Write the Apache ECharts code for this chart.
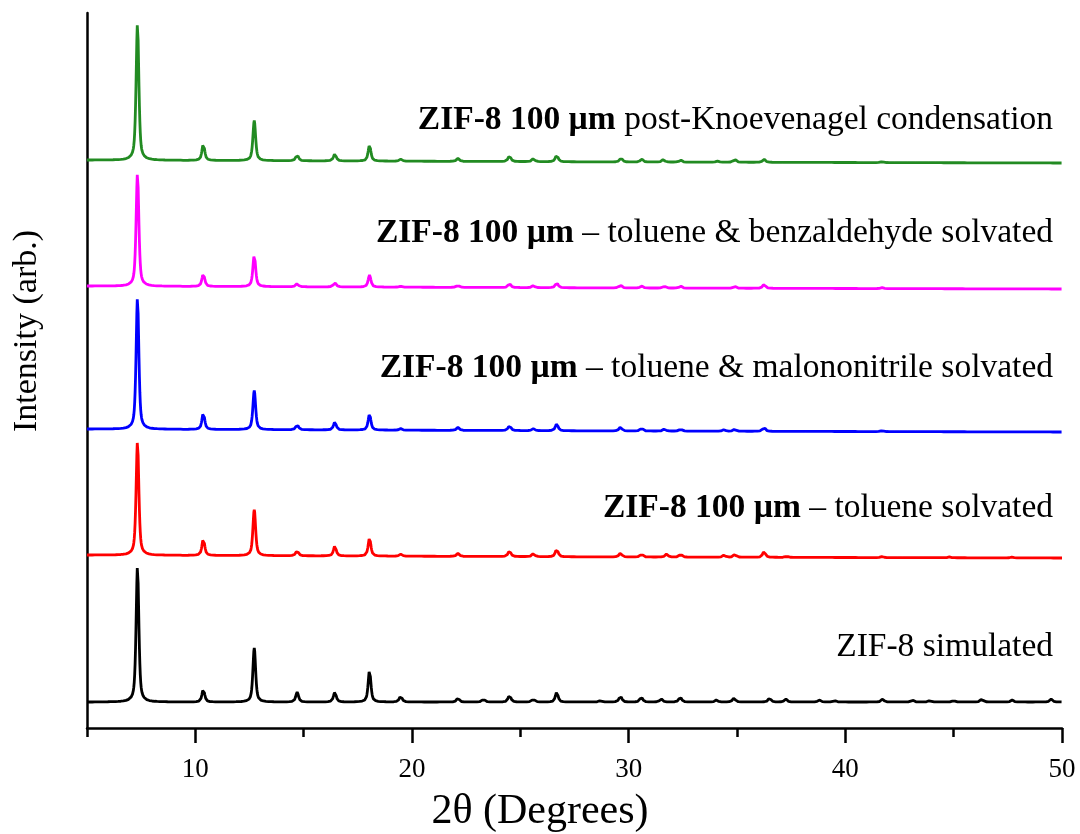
<!DOCTYPE html>
<html>
<head>
<meta charset="utf-8">
<title>ZIF-8 PXRD patterns</title>
<script src="https://cdn.jsdelivr.net/npm/echarts@6/dist/echarts.min.js"></script>
<style>
  html, body { margin: 0; padding: 0; background: #ffffff; }
  #chart { width: 1080px; height: 834px; }
</style>
</head>
<body>
<div id="chart"></div>
<script>
// 2θ range of the diffractograms (degrees)
const thetaMin = 5;
const thetaMax = 50;
const thetaStep = 0.02;

// Tick values of the 2θ axis
const majorTicks = [10, 20, 30, 40, 50];
const minorTicks = [5, 15, 25, 35, 45];

// Reflections of each pattern: [2θ, intensity above baseline] (arb.)
const simulatedPeaks = [
  [7.33, 136], [10.37, 13], [12.72, 54], [14.70, 10], [16.44, 10], [18.04, 32],
  [19.48, 6], [22.12, 4], [23.30, 3], [24.50, 7], [25.60, 3], [26.68, 10],
  [28.70, 1.5], [29.62, 6], [30.58, 5], [31.50, 3], [32.38, 5], [34.05, 2],
  [34.86, 4], [36.50, 4], [37.25, 3], [38.80, 2], [39.50, 1.5], [41.72, 3],
  [43.10, 2], [43.90, 1.5], [45.00, 1.5], [46.30, 3], [47.70, 2], [49.50, 3]
];
const tolueneSolvatedPeaks = [
  [7.33, 114], [10.37, 17], [12.72, 46], [14.70, 5], [16.44, 10], [18.04, 18],
  [19.48, 2], [22.12, 3], [24.50, 6], [25.60, 3], [26.68, 8], [29.62, 4],
  [30.60, 3], [31.75, 3], [32.40, 3], [34.40, 2], [34.90, 3], [36.25, 6],
  [37.30, 1], [41.70, 1], [44.80, 0.8], [47.70, 0.8]
];
const malononitrileSolvatedPeaks = [
  [7.33, 132], [10.37, 17], [12.72, 39], [14.70, 5], [16.44, 8], [18.04, 16],
  [19.48, 1.5], [22.12, 3], [24.50, 5], [25.60, 2], [26.68, 7], [29.62, 4],
  [30.60, 3], [31.65, 2], [32.40, 2], [34.40, 1.5], [34.90, 2], [36.25, 4],
  [41.70, 1]
];
const benzaldehydeSolvatedPeaks = [
  [7.33, 113], [10.37, 13], [12.72, 32], [14.70, 3], [16.44, 4], [18.04, 12],
  [19.48, 1], [22.12, 2], [24.50, 4], [25.60, 2], [26.68, 5], [29.62, 3],
  [30.60, 2], [31.65, 2], [32.40, 2], [34.90, 2], [36.25, 4], [41.70, 1]
];
const knoevenagelPeaks = [
  [7.33, 137], [10.37, 17], [12.72, 40], [14.70, 6], [16.44, 7], [18.04, 16],
  [19.48, 2], [22.12, 3], [24.50, 6], [25.60, 3], [26.68, 7], [29.65, 4],
  [30.60, 3], [31.60, 2.5], [32.40, 2], [34.10, 1], [34.90, 3], [36.25, 3],
  [41.70, 1]
];

// Vertical offset of each trace: [2θ, baseline level]
const simulatedBase = [[5, 26], [50, 26]];
const tolueneSolvatedBase = [[5, 173], [30, 171], [50, 170]];
const malononitrileSolvatedBase = [[5, 299], [30, 297], [50, 296]];
const benzaldehydeSolvatedBase = [[5, 442], [30, 440], [50, 439]];
const knoevenagelBase = [[5, 568], [30, 566], [50, 565]];

// Trace legends (bold sample name + description)
const labelBold = ['ZIF-8 100 µm', 'ZIF-8 100 µm', 'ZIF-8 100 µm', 'ZIF-8 100 µm', ''];
const labelText = [
  ' post-Knoevenagel condensation',
  ' – toluene & benzaldehyde solvated',
  ' – toluene & malononitrile solvated',
  ' – toluene solvated',
  'ZIF-8 simulated'
];

const traceColors = ['#228b22', '#ff00ff', '#0000ff', '#ff0000', '#000000'];
const labelCenters = [120, 233, 368, 508, 647];

// Peak profile (pseudo-Voigt) used to draw each reflection
const hwhm = 0.075;
const eta = 0.6;
function profile(dx) {
  const u = (dx / hwhm) * (dx / hwhm);
  return eta / (1 + u) + (1 - eta) * Math.exp(-Math.LN2 * u);
}
function baseAt(base, x) {
  for (let i = 0; i < base.length - 1; i++) {
    const a = base[i], b = base[i + 1];
    if (x >= a[0] && x <= b[0]) return a[1] + (b[1] - a[1]) * (x - a[0]) / (b[0] - a[0]);
  }
  return base[base.length - 1][1];
}
function pattern(peaks, base) {
  const pts = [];
  const n = Math.round((thetaMax - thetaMin) / thetaStep);
  for (let i = 0; i <= n; i++) {
    const x = thetaMin + i * thetaStep;
    let y = baseAt(base, x);
    for (const p of peaks) {
      const dx = x - p[0];
      if (Math.abs(dx) < 2) y += p[1] * profile(dx);
    }
    pts.push([+x.toFixed(3), +y.toFixed(2)]);
  }
  return pts;
}

const traces = [
  pattern(knoevenagelPeaks, knoevenagelBase),
  pattern(benzaldehydeSolvatedPeaks, benzaldehydeSolvatedBase),
  pattern(malononitrileSolvatedPeaks, malononitrileSolvatedBase),
  pattern(tolueneSolvatedPeaks, tolueneSolvatedBase),
  pattern(simulatedPeaks, simulatedBase)
];

const serif = '"Liberation Serif", "DejaVu Serif", serif';

const chart = echarts.init(document.getElementById('chart'), null, { renderer: 'canvas' });

const option = {
  backgroundColor: '#ffffff',
  animation: false,
  grid: { left: 87, right: 18, top: 13, bottom: 106, containLabel: false },
  xAxis: [
    {
      type: 'value', min: thetaMin, max: thetaMax,
      axisLine: { show: true, lineStyle: { color: '#000', width: 2.5 } },
      axisTick: { show: true, customValues: majorTicks, length: 15, lineStyle: { color: '#000', width: 2.5 } },
      axisLabel: { show: true, customValues: majorTicks, margin: 28, fontFamily: serif, fontSize: 27, color: '#000' },
      splitLine: { show: false }
    },
    {
      type: 'value', min: thetaMin, max: thetaMax, position: 'bottom',
      axisLine: { show: false },
      axisTick: { show: true, customValues: minorTicks, length: 9, lineStyle: { color: '#000', width: 2.5 } },
      axisLabel: { show: false },
      splitLine: { show: false }
    }
  ],
  yAxis: {
    type: 'value', min: 0, max: 715,
    axisLine: { show: true, lineStyle: { color: '#000', width: 2.5 } },
    axisTick: { show: false },
    axisLabel: { show: false },
    splitLine: { show: false }
  },
  series: traces.map((d, i) => ({
    type: 'line',
    data: d,
    showSymbol: false,
    symbol: 'none',
    smooth: false,
    sampling: 'none',
    lineStyle: { color: traceColors[i], width: 2.8 },
    z: 3
  })),
  graphic: [
    {
      type: 'text', x: 540, y: 812,
      style: { text: '2θ (Degrees)', font: '42px ' + serif, fill: '#000', textAlign: 'center', textVerticalAlign: 'middle' }
    },
    {
      type: 'text', x: 27, y: 331, rotation: Math.PI / 2,
      style: { text: 'Intensity (arb.)', font: '34px ' + serif, fill: '#000', textAlign: 'center', textVerticalAlign: 'middle' }
    }
  ].concat(labelText.map((t, i) => ({
    type: 'text', x: 1053, y: labelCenters[i],
    style: {
      text: (labelBold[i] ? '{b|' + labelBold[i] + '}' : '') + '{n|' + t + '}',
      textAlign: 'right', textVerticalAlign: 'middle',
      rich: {
        b: { fontFamily: serif, fontSize: 33.5, fontWeight: 'bold', color: '#000' },
        n: { fontFamily: serif, fontSize: 33.5, color: '#000' }
      }
    }
  })))
};

chart.setOption(option);
</script>
</body>
</html>
